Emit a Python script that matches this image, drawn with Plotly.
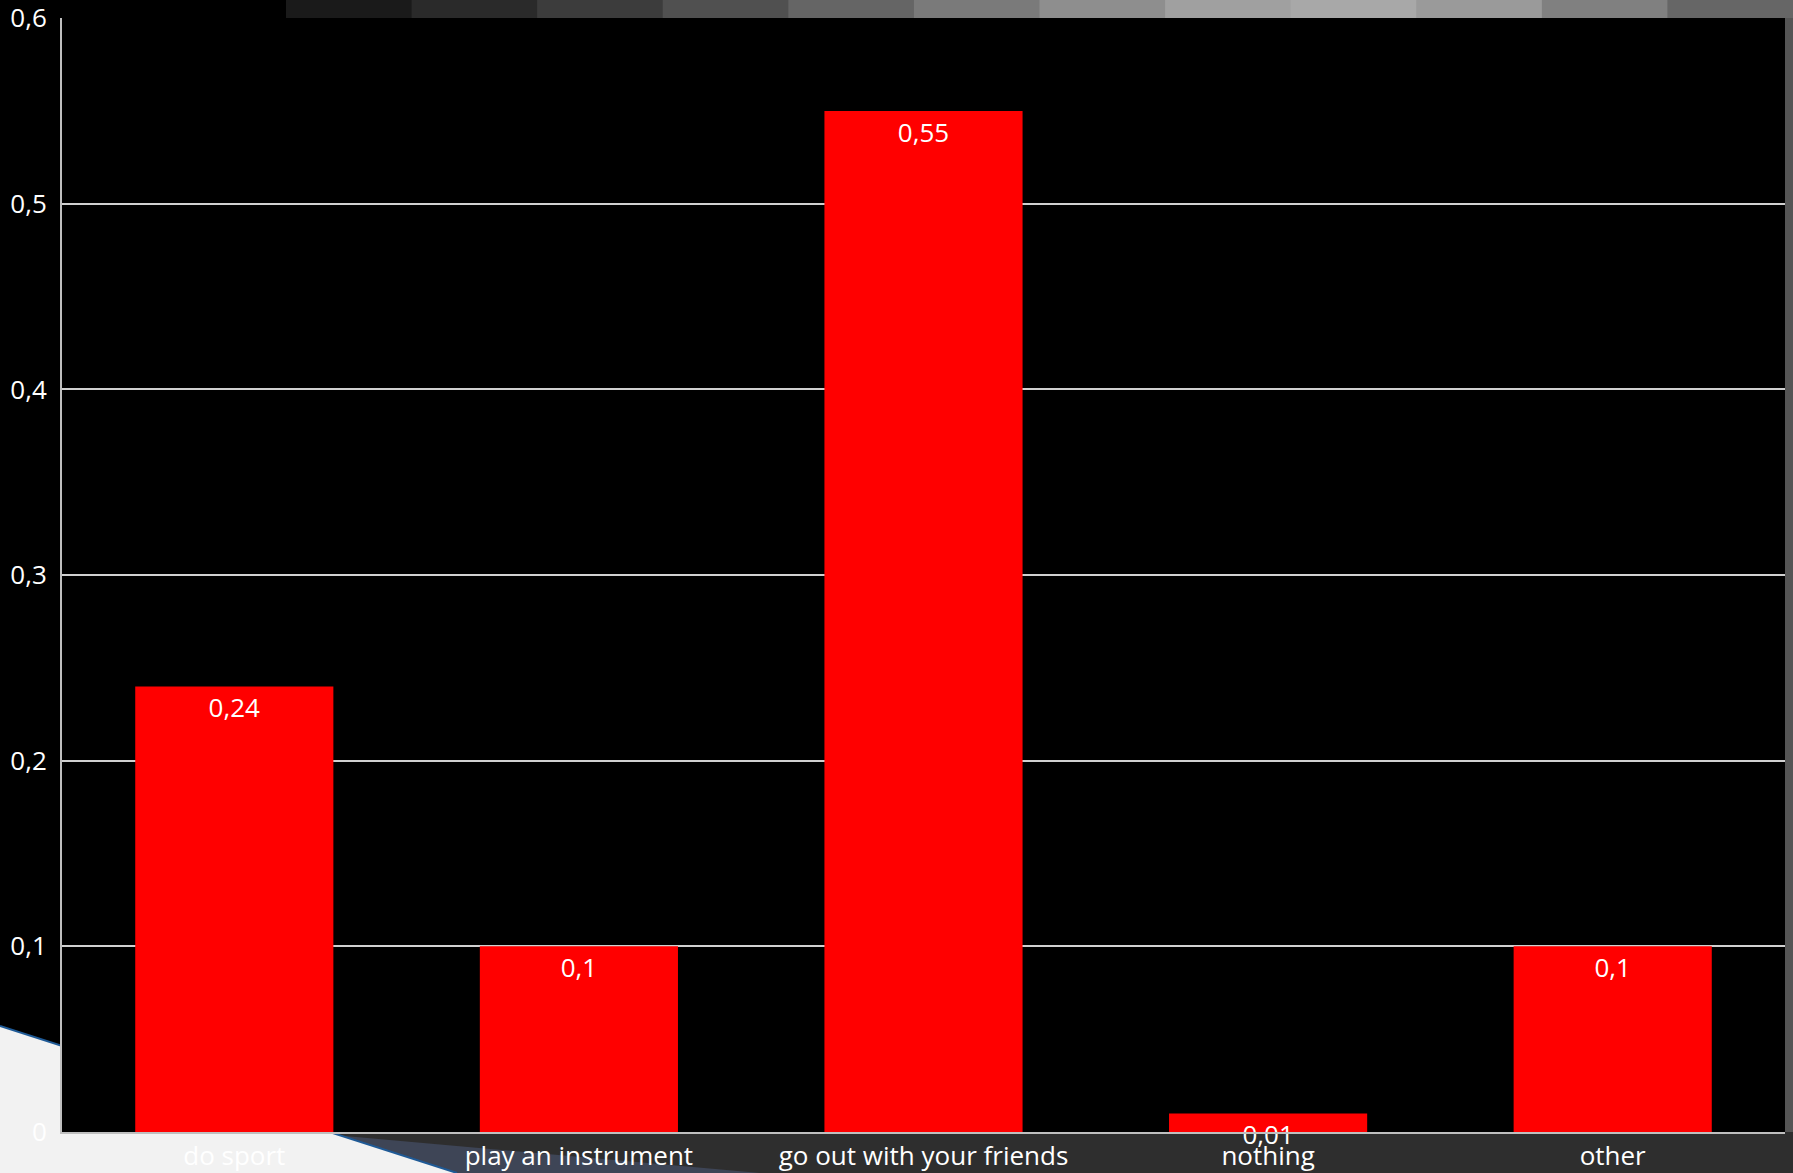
import plotly.graph_objects as go

categories = ["do sport", "play an instrument", "go out with your friends", "nothing", "other"]
values = [0.24, 0.1, 0.55, 0.01, 0.1]
value_labels = ["0,24", "0,1", "0,55", "0,01", "0,1"]
y_tick_vals = [0, 0.1, 0.2, 0.3, 0.4, 0.5, 0.6]
y_tick_text = ["0", "0,1", "0,2", "0,3", "0,4", "0,5", "0,6"]

W, H = 1793, 1173
L, R, T, B = 62, 8, 18, 41
PW, PH = W - L - R, H - T - B


def px(x):
    return (x - L) / PW


def py(y):
    return (H - B - y) / PH


FONT = "Open Sans"

fig = go.Figure(
    go.Bar(
        x=categories,
        y=values,
        text=value_labels,
        textposition="inside",
        insidetextanchor="end",
        constraintext="none",
        cliponaxis=False,
        textfont=dict(color="white", size=26, family=FONT),
        marker=dict(color="#ff0000", line=dict(width=0)),
        hoverinfo="skip",
    )
)

shapes = []
# bottom strip
shapes.append(dict(type="rect", xref="paper", yref="paper", x0=px(0), x1=px(W), y0=py(H), y1=py(H - B),
                   fillcolor="#2e2e2e", line=dict(width=0), layer="below"))
# slate wedge
shapes.append(dict(type="path", xref="paper", yref="paper",
                   path=f"M {px(300)},{py(1132)} L {px(760)},{py(1173)} L {px(300)},{py(1173)} Z",
                   fillcolor="#3e4556", line=dict(width=0), layer="below"))
# white hatched area
shapes.append(dict(type="path", xref="paper", yref="paper",
                   path=f"M {px(0)},{py(1026)} L {px(457)},{py(1173)} L {px(0)},{py(1173)} Z",
                   fillcolor="#f2f2f2", line=dict(width=0), layer="below"))
shapes.append(dict(type="line", xref="paper", yref="paper", x0=px(0), y0=py(1026), x1=px(457), y1=py(1173),
                   line=dict(color="#1f5a96", width=2), layer="below"))
# top gradient strip
grays = ["#1a1a1a", "#2a2a2a", "#3c3c3c", "#505050", "#656565", "#7a7a7a", "#8e8e8e", "#a0a0a0", "#a8a8a8", "#9a9a9a", "#808080", "#666666"]
x0 = 286
step = (W - x0) / len(grays)
for i, g in enumerate(grays):
    shapes.append(dict(type="rect", xref="paper", yref="paper", x0=px(x0 + i * step), x1=px(x0 + (i + 1) * step + 1),
                       y0=py(T), y1=py(0), fillcolor=g, line=dict(width=0), layer="below"))
# right strip
shapes.append(dict(type="rect", xref="paper", yref="paper", x0=px(W - R), x1=px(W), y0=py(H - B), y1=py(T),
                   fillcolor="#555555", line=dict(width=0), layer="below"))
# plot area black
shapes.append(dict(type="rect", xref="paper", yref="paper", x0=0, x1=1, y0=0, y1=1,
                   fillcolor="#000000", line=dict(width=0), layer="below"))

fig.update_layout(
    width=W,
    height=H,
    margin=dict(l=L, r=R, t=T, b=B, pad=0),
    paper_bgcolor="#000000",
    plot_bgcolor="#000000",
    separators=",.",
    bargap=0.425,
    showlegend=False,
    shapes=shapes,
    font=dict(family=FONT, color="white", size=26),
)
fig.update_xaxes(
    showgrid=False,
    showline=True,
    linecolor="#bfbfbf",
    linewidth=2,
    ticks="",
    automargin=False,
    tickfont=dict(size=26, color="white", family=FONT),
)
fig.update_yaxes(
    range=[0, 0.6001],
    tickvals=y_tick_vals,
    ticktext=y_tick_text,
    showgrid=True,
    gridcolor="#d0d0d0",
    gridwidth=1.5,
    showline=True,
    linecolor="#bfbfbf",
    linewidth=2,
    zeroline=False,
    ticks="",
    automargin=False,
    ticklabeloverflow="allow",
    ticklabelstandoff=8,
    tickfont=dict(size=26, color="white", family=FONT),
)

fig.write_html(
    "out.html",
    config={"displayModeBar": False},
    post_script="document.body.style.margin='0';document.body.style.padding='0';document.documentElement.style.overflow='hidden';",
)
